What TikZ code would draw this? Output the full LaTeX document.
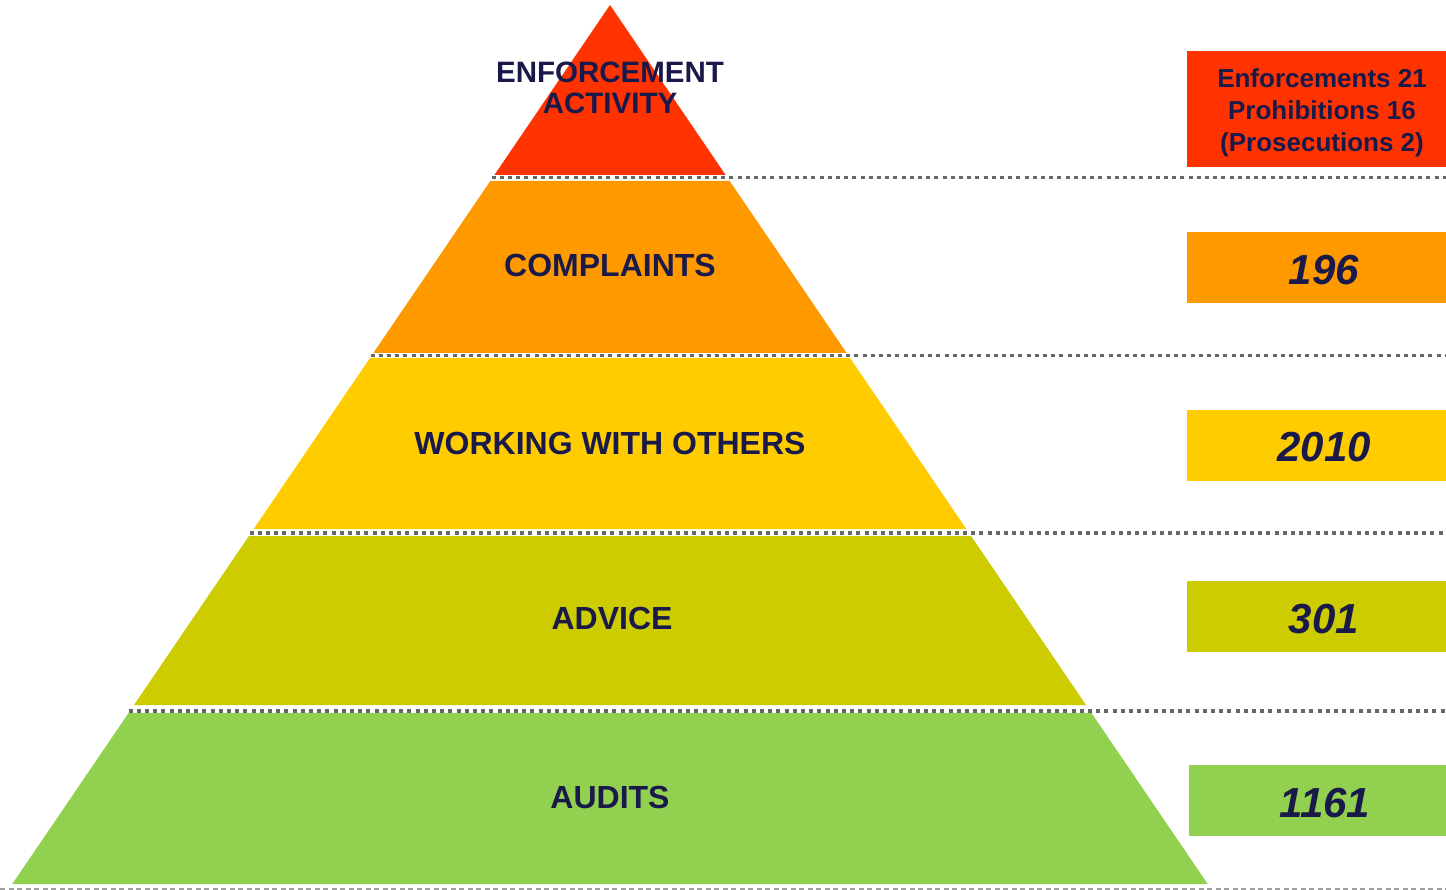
\documentclass[tikz,border=0pt]{standalone}
\usepackage{fontspec}
\setmainfont{Liberation Sans}
\definecolor{cred}{HTML}{FF3300}
\definecolor{corange}{HTML}{FF9900}
\definecolor{cyellow}{HTML}{FFCC00}
\definecolor{colive}{HTML}{CCCC00}
\definecolor{cgreen}{HTML}{92D050}
\definecolor{navy}{HTML}{1A1A4A}
\definecolor{dotgrey}{HTML}{666666}
\definecolor{dashgrey}{HTML}{A0A0A0}
\tikzset{
  layerlabel/.style={text=navy, font=\fontsize{32}{34}\selectfont\bfseries, inner sep=0pt},
  boxnum/.style={text=navy, font=\fontsize{42}{44}\selectfont\bfseries\itshape, inner sep=0pt},
  sepline/.style={draw=dotgrey, line width=3.5pt, dash pattern=on 4pt off 4.2pt},
  baseline/.style={draw=dashgrey, line width=1.2pt, dash pattern=on 5pt off 3.5pt},
}
\begin{document}
\begin{tikzpicture}[x=1pt,y=-1pt]
\useasboundingbox (0,0) rectangle (1446,890);
% layers
\fill[cred] (610,5) -- ({610+0.68*170},175) -- ({610-0.68*170},175) -- cycle;
\fill[corange] ({610-0.68*176},181) -- ({610+0.68*176},181) -- ({610+0.68*348},353) -- ({610-0.68*348},353) -- cycle;
\fill[cyellow] ({610-0.68*353},358) -- ({610+0.68*353},358) -- ({610+0.68*524},529) -- ({610-0.68*524},529) -- cycle;
\fill[colive] ({610-0.68*531},536) -- ({610+0.68*531},536) -- ({610+0.68*700},705) -- ({610-0.68*700},705) -- cycle;
\fill[cgreen] ({610-0.68*708},713) -- ({610+0.68*708},713) -- ({610+0.68*879},884) -- ({610-0.68*879},884) -- cycle;
% separator coordinates
\coordinate (s1a) at ({610-0.68*174},177.5); \coordinate (s1b) at (1446,177.5);
\coordinate (s2a) at ({610-0.68*352},355.5); \coordinate (s2b) at (1446,355.5);
\coordinate (s3a) at ({610-0.68*530},533); \coordinate (s3b) at (1446,533);
\coordinate (s4a) at ({610-0.68*708},711); \coordinate (s4b) at (1446,711);
\coordinate (s5a) at (0,889); \coordinate (s5b) at (1446,889);
\draw[sepline] (s1a) -- (s1b);
\draw[sepline] (s2a) -- (s2b);
\draw[sepline] (s3a) -- (s3b);
\draw[sepline] (s4a) -- (s4b);
\draw[baseline] (s5a) -- (s5b);
% layer labels
\node[text=navy, font=\fontsize{29.5}{31}\selectfont\bfseries, inner sep=0pt, align=center] (enf) at (610,88) {ENFORCEMENT\\ACTIVITY};
\node[layerlabel] (comp) at (610,265) {COMPLAINTS};
\node[layerlabel] (work) at (610,443) {WORKING WITH OTHERS};
\node[layerlabel] (adv) at (612,618) {ADVICE};
\node[layerlabel] (aud) at (610,797) {AUDITS};
% right boxes
\fill[cred] (1187,51) rectangle (1446,167);
\fill[corange] (1187,232) rectangle (1446,303);
\fill[cyellow] (1187,410) rectangle (1446,481);
\fill[colive] (1187,581) rectangle (1446,652);
\fill[cgreen] (1189,765) rectangle (1446,836);
\node[text=navy, font=\fontsize{26}{32}\selectfont\bfseries, inner sep=0pt, align=center] (b1) at (1322,112.5) {Enforcements 21\\Prohibitions 16\\(Prosecutions 2)};
\node[boxnum] (b2) at (1324,270) {196};
\node[boxnum] (b3) at (1324,447) {2010};
\node[boxnum] (b4) at (1324,619) {301};
\node[boxnum] (b5) at (1325,803) {1161};
\end{tikzpicture}
\end{document}
